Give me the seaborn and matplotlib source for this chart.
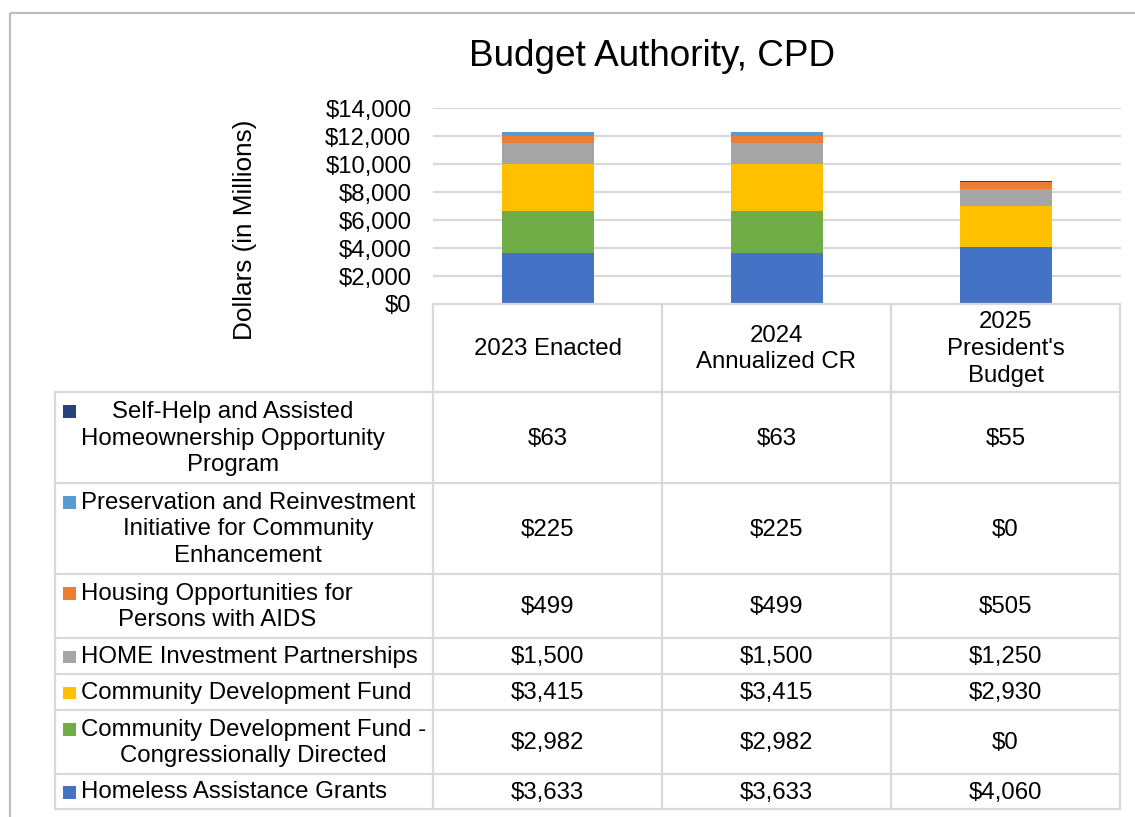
import matplotlib
matplotlib.use("Agg")
import matplotlib.pyplot as plt
import matplotlib.ticker as mticker
from matplotlib.patches import Rectangle
import seaborn as sns
import pandas as pd
import numpy as np

# ---------------- data ----------------
years = ["2023 Enacted", "2024\nAnnualized CR", "2025\nPresident's\nBudget"]

# series listed bottom -> top of the stack
series_names = [
    "Homeless Assistance Grants",
    "Community Development Fund -\nCongressionally Directed",
    "Community Development Fund",
    "HOME Investment Partnerships",
    "Housing Opportunities for\nPersons with AIDS",
    "Preservation and Reinvestment\nInitiative for Community\nEnhancement",
    "Self-Help and Assisted\nHomeownership Opportunity\nProgram",
]
homeless = [3633, 3633, 4060]
cdf_directed = [2982, 2982, 0]
cdf = [3415, 3415, 2930]
home = [1500, 1500, 1250]
hopwa = [499, 499, 505]
price = [225, 225, 0]
shop = [63, 63, 55]
series_values = [homeless, cdf_directed, cdf, home, hopwa, price, shop]
series_colors = ["#4472C4", "#70AD47", "#FFC000", "#A5A5A5", "#ED7D31", "#5B9BD5", "#264478"]

y_ticks = [0, 2000, 4000, 6000, 8000, 10000, 12000, 14000]

# ---------------- style ----------------
sns.set_style("white")
plt.rcParams["font.family"] = ["Liberation Sans", "DejaVu Sans"]

W, H = 1135, 817
fig = plt.figure(figsize=(W / 100, H / 100), dpi=100)
fig.patch.set_facecolor("white")

# layout (pixels)
ax_left, ax_right, ax_top, ax_bottom = 433, 1121, 108, 304
ax = fig.add_axes([ax_left / W, 1 - ax_bottom / H,
                   (ax_right - ax_left) / W, (ax_bottom - ax_top) / H])

# stacked bars through cumulative overlays (top layer drawn first)
cum = np.cumsum(np.array(series_values), axis=0)
for i in range(len(series_values) - 1, -1, -1):
    df = pd.DataFrame({"year": years, "value": cum[i]})
    sns.barplot(data=df, x="year", y="value", order=years, color=series_colors[i],
                saturation=1, width=0.4, errorbar=None, linewidth=0, ax=ax, zorder=3)

ax.set_xlim(-0.5, 2.5)
ax.set_ylim(0, 14000)
ax.set_yticks(y_ticks)
ax.yaxis.set_major_formatter(mticker.FuncFormatter(lambda v, p: f"${int(v):,}"))
ax.tick_params(axis="y", length=0, pad=15.5, labelsize=17.2, labelcolor="black")
ax.set_xticks([])
ax.set_xlabel("")
ax.set_ylabel("")
for s in ax.spines.values():
    s.set_visible(False)
for t in y_ticks[1:]:
    ax.axhline(t, color="#D9D9D9", lw=1.6, zorder=1)

# ---------------- overlay for title, label, table ----------------
ov = fig.add_axes([0, 0, 1, 1], zorder=5)
ov.set_xlim(0, W)
ov.set_ylim(H, 0)
ov.axis("off")

# outer chart border
ov.plot([10, 10], [13, H + 5], color="#BFBFBF", lw=1.6, solid_capstyle="butt")
ov.plot([10, W + 5], [13, 13], color="#BFBFBF", lw=1.6, solid_capstyle="butt")

ov.text(652, 56, "Budget Authority, CPD", fontsize=26.6, ha="center", va="center", color="black")
ov.text(245, 230, "Dollars (in Millions)", fontsize=18.8, rotation=90,
        ha="center", va="center", color="black")

grid_c = "#D9D9D9"
col_x = [433, 662, 891, 1120]
label_left = 55
row_y = [392, 483, 574, 638, 674, 710, 774, 809]
header_top = 304

# table lines
ov.plot([col_x[0], col_x[-1]], [header_top, header_top], color=grid_c, lw=1.6)
for x in col_x:
    ov.plot([x, x], [header_top, row_y[-1]], color=grid_c, lw=1.6)
for y in row_y:
    ov.plot([label_left, col_x[-1]], [y, y], color=grid_c, lw=1.6)
ov.plot([label_left, label_left], [row_y[0], row_y[-1]], color=grid_c, lw=1.6)

fs = 17.3
ls = 1.28
line_px = 27

# header
for j, yr in enumerate(years):
    cx = (col_x[j] + col_x[j + 1]) / 2
    ov.text(cx, (header_top + row_y[0]) / 2 + 1, yr, fontsize=fs, ha="center", va="center",
            multialignment="center", linespacing=ls, color="black")

# rows (top of table = top of stack)
n = len(series_names)
for r in range(n):
    k = n - 1 - r
    yc = (row_y[r] + row_y[r + 1]) / 2 + 1
    name = series_names[k]
    nlines = name.count("\n") + 1
    ov.text(81, yc, name, fontsize=fs, ha="left", va="center",
            multialignment="center", linespacing=ls, color="black")
    first_y = yc - (nlines - 1) / 2 * line_px
    ov.add_patch(Rectangle((63, first_y - 6.5), 12.5, 12.5, color=series_colors[k], lw=0))
    for j in range(3):
        cx = (col_x[j] + col_x[j + 1]) / 2
        ov.text(cx, yc, f"${series_values[k][j]:,}", fontsize=fs, ha="center",
                va="center", color="black")

fig.savefig("out.png", dpi=100, facecolor="white")
